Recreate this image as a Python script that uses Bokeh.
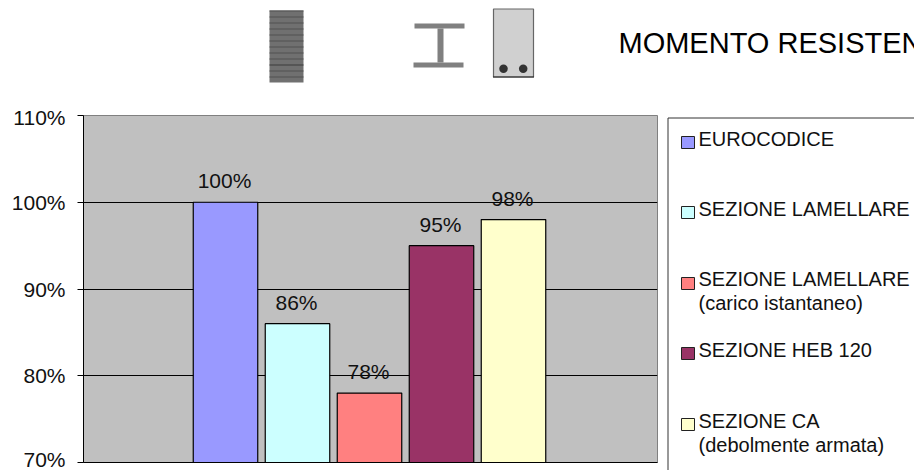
from bokeh.core.properties import value
from bokeh.embed import file_html
from bokeh.layouts import column, row
from bokeh.models import ColumnDataSource, FixedTicker, PrintfTickFormatter, Range1d
from bokeh.plotting import figure
from bokeh.resources import INLINE

# Bar chart data
categories = ["EUROCODICE", "SEZIONE LAMELLARE", "SEZIONE LAMELLARE (carico istantaneo)",
              "SEZIONE HEB 120", "SEZIONE CA (debolmente armata)"]
values = [100, 86, 78, 95, 98]
colors = ["#9999FF", "#CCFFFF", "#FF8080", "#993366", "#FFFFCC"]
y_ticks = [70, 80, 90, 100, 110]
title_text = "MOMENTO RESISTEN"

# Legend rows: swatch top, first baseline, lines of text
legend_tops = [136, 206, 277, 347, 418]
legend_bases = [146, 216, 286, 357, 428]
legend_first = ["EUROCODICE", "SEZIONE LAMELLARE", "SEZIONE LAMELLARE", "SEZIONE HEB 120", "SEZIONE CA"]
legend_second = ["", "", "(carico istantaneo)", "", "(debolmente armata)"]

W, H = 914, 470
TOP_H = 105        # height of the band holding the section sketches and the title
MAIN_W = 660       # width of the chart panel
FL, FR, FT, FB = 83, 657, 115, 462  # frame edges in page pixels
FONT = "Liberation Sans"


def sketch_panel(x0, x1, y0, y1):
    """Axis-free panel whose data coordinates are page pixels, y growing downwards."""
    f = figure(width=x1 - x0, height=y1 - y0, output_backend="svg", toolbar_location=None,
               x_range=Range1d(x0, x1), y_range=Range1d(y1, y0),
               x_axis_location=None, y_axis_location=None,
               min_border=0, outline_line_color=None, background_fill_color="white", border_fill_color="white")
    f.grid.visible = False
    return f


def block(f, x0, y0, x1, y1, fill="#808080", line=None, lw=1):
    f.quad(left=[x0], right=[x1], top=[y0], bottom=[y1], fill_color=fill, line_color=line, line_width=lw)


def words(f, x, y, t, size, color="#111111"):
    # The renderer centres this text on its anchor, so lift it onto the baseline
    f.text(x=[x], y=[y], text=[t], text_font=value(FONT), text_font_size=f"{size}px", text_color=color,
           text_baseline="alphabetic", text_align="left", y_offset=-0.38 * size)


# Upper band: section sketches and title
head = sketch_panel(0, W, 0, TOP_H)

# Laminated section
block(head, 269, 10, 303, 82, fill="#707070")
for ly in [10, 16, 22, 28, 34, 40, 46, 52, 58, 64, 70, 76]:
    block(head, 269, ly, 303, ly + 1, fill="#3A3A3A" if ly == 64 else "#505050")

# Steel I section
block(head, 414, 23, 464, 28)
block(head, 413, 62, 463, 67)
block(head, 437, 28, 443, 62)

# Reinforced concrete section with its two bars
block(head, 493, 8.5, 533, 76.5, fill="#D0D0D0", line="#666666", lw=1.2)
block(head, 492.5, 76, 533.5, 77, fill="#222222")
head.scatter(x=[503, 522.7], y=[68.3, 68.3], size=8.5, marker="circle", fill_color="#333333", line_color=None)

words(head, 618, 54, title_text, 29, "#000000")

# Bar chart
main = figure(width=MAIN_W, height=H - TOP_H, output_backend="svg", toolbar_location=None,
              x_range=Range1d(2 - (FR - FL) / 144 + 1 / 72, 2 + (FR - FL) / 144 + 1 / 72), y_range=Range1d(70, 110),
              min_border_left=FL, min_border_right=MAIN_W - FR, min_border_top=FT - TOP_H, min_border_bottom=H - FB,
              background_fill_color="#C0C0C0", border_fill_color="white",
              outline_line_color="#808080", outline_line_width=1)

main.xaxis.ticker = FixedTicker(ticks=[])
main.xaxis.major_tick_line_color = None
main.xaxis.minor_tick_line_color = None
main.xaxis.major_label_text_font_size = "0px"
main.xaxis.axis_line_color = "black"
main.xgrid.visible = False

main.yaxis.ticker = FixedTicker(ticks=y_ticks)
main.yaxis.formatter = PrintfTickFormatter(format="%d%%")
main.yaxis.axis_line_color = "black"
main.yaxis.major_tick_line_color = "black"
main.yaxis.major_tick_in = 0
main.yaxis.major_tick_out = 6
main.yaxis.minor_tick_line_color = None
main.yaxis.major_label_standoff = 12
main.yaxis.major_label_text_font = FONT
main.yaxis.major_label_text_font_size = "21px"
main.yaxis.major_label_text_line_height = 1.0
main.yaxis.major_label_text_color = "#111111"
main.ygrid.grid_line_color = "black"
main.ygrid.grid_line_width = 1

source = ColumnDataSource(dict(
    x=list(range(len(values))), top=values, color=colors,
    label=[f"{v}%" for v in values],
))
main.vbar(x="x", top="top", bottom=70, width=64.5 / 72, fill_color="color", line_color="black",
          line_width=1.2, source=source)
main.text(x="x", y="top", text="label", source=source, text_align="center", text_baseline="alphabetic",
          x_offset=-1, y_offset=-21.5, text_font_size="21px", text_color="#111111",
          text_font=value(FONT))

# Legend panel
side = sketch_panel(MAIN_W, W, TOP_H, H)
side.line(x=[W + 5, 667.5, 667.5], y=[117.5, 117.5, H + 5], line_color="#333333", line_width=1)
for top, base, first, second, color in zip(legend_tops, legend_bases, legend_first, legend_second, colors):
    block(side, 681, top, 694, top + 12, fill=color, line="#222222", lw=1)
    words(side, 698, base, first, 20)
    if second:
        words(side, 698, base + 24, second, 20)

# The nested column keeps the legend panel's edges independent of the chart's frame
layout = column(head, row(main, column(side, spacing=0), spacing=0), spacing=0)

open("out.html", "w").write(file_html(layout, INLINE))
